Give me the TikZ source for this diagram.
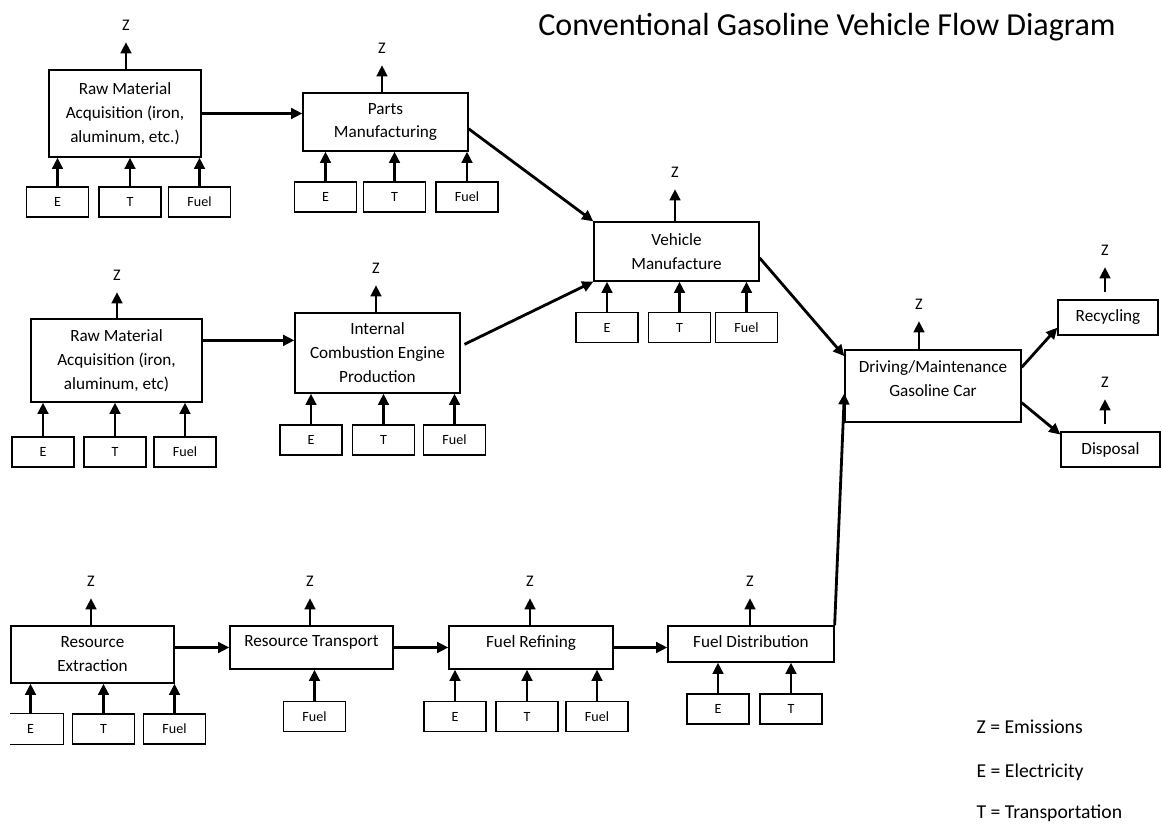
\documentclass[tikz,border=0pt]{standalone}
\usepackage{fontspec}
\setmainfont{Carlito}
\usetikzlibrary{arrows.meta, positioning}
\tikzset{
  every picture/.style={line width=0.9pt},
  box/.style={draw, align=center, inner sep=2pt, font=\fontsize{12.2}{17}\selectfont},
  wh/.style 2 args={minimum width=#1*0.025cm, minimum height=#2*0.025cm},
  inbox/.style={draw, minimum width=1.55cm, minimum height=0.75cm, inner sep=1pt, font=\fontsize{10}{12}\selectfont},
  zlab/.style={inner sep=0pt, outer sep=8.5pt, font=\fontsize{11.5}{13}\selectfont},
  arr/.style={-{Triangle[length=8pt, width=7.5pt]}, line width=2pt},
  legend/.style={anchor=base west, inner sep=0pt, font=\fontsize{14}{17}\selectfont},
}

\begin{document}
\begin{tikzpicture}[x=0.025cm, y=-0.025cm]
  \useasboundingbox (0,0) rectangle (1162,827);
  \node[font=\fontsize{22.8}{27}\selectfont] (title) at (827,27) {Conventional Gasoline Vehicle Flow Diagram};
  % vehicle branch
  \node[box, wh={152}{87}] (rma) at (125,113.5) {Raw Material\\Acquisition (iron,\\aluminum, etc.)};
  \node[box, wh={165}{58}] (parts) at (385.5,122) {Parts\\Manufacturing};
  \node[box, wh={171}{83}] (rmb) at (116.5,360.5) {Raw Material\\Acquisition (iron,\\aluminum, etc)};
  \node[box, wh={165}{80}] (engine) at (377.5,353) {Internal\\Combustion Engine\\Production};
  \node[box, wh={165}{59}] (vman) at (676.5,251.5) {Vehicle\\Manufacture};
  \node[box, wh={176}{72}, text depth=10pt] (drive) at (933,386) {Driving/Maintenance\\Gasoline Car};
  \node[box, wh={100}{35}] (recyc) at (1108,317.5) {Recycling};
  \node[box, wh={99}{35}] (disp) at (1110.5,449.5) {Disposal};
  % fuel branch
  \node[box, wh={163}{57}] (extr) at (92.5,654.5) {Resource\\Extraction};
  \node[box, wh={163}{43}, text depth=9pt] (rtrans) at (311.5,647.5) {Resource Transport};
  \node[box, wh={164}{43}, text depth=9pt] (refine) at (531,647.5) {Fuel Refining};
  \node[box, wh={166}{36}, text depth=3pt] (distr) at (751,644) {Fuel Distribution};
  % emissions
  \foreach \b/\zx/\zy in {rma/126/25, parts/382/48, vman/675/172, rmb/117/275, engine/376/268,
      drive/919/304, extr/91/581, rtrans/310/581, refine/530/581, distr/750/581} {
    \node[zlab] (z-\b) at (\zx,\zy) {Z};
    \draw[arr] (z-\b |- \b.north) -- (z-\b.south);
  }
  \foreach \b/\zx/\zy in {recyc/1105/250, disp/1105/382} {
    \node[zlab] (z-\b) at (\zx,\zy) {Z};
    \draw[arr, shorten <=5pt] (z-\b |- \b.north) -- (z-\b.south);
  }
  % inputs
  \foreach \t/\x [count=\n] in {E/57.5, T/130, Fuel/199.5} {
    \node[inbox] (rma-\n) at (\x,202) {\t};
    \draw[arr] (rma-\n) -- (rma-\n |- rma.south);
  }
  \foreach \t/\x [count=\n] in {E/325.5, T/394.5, Fuel/467} {
    \node[inbox] (parts-\n) at (\x,197) {\t};
    \draw[arr] (parts-\n) -- (parts-\n |- parts.south);
  }
  \foreach \t/\x [count=\n] in {E/607, T/679.5, Fuel/746.5} {
    \node[inbox] (vman-\n) at (\x,327.5) {\t};
    \draw[arr] (vman-\n) -- (vman-\n |- vman.south);
  }
  \foreach \t/\x [count=\n] in {E/43, T/115, Fuel/185} {
    \node[inbox] (rmb-\n) at (\x,452) {\t};
    \draw[arr] (rmb-\n) -- (rmb-\n |- rmb.south);
  }
  \foreach \t/\x [count=\n] in {E/311, T/383.5, Fuel/454.5} {
    \node[inbox] (engine-\n) at (\x,440) {\t};
    \draw[arr] (engine-\n) -- (engine-\n |- engine.south);
  }
  \node[inbox, draw=none, minimum width=1.62cm] (extr-1) at (30.5,729) {E};
  \draw (extr-1.north -| extr.west) -- (extr-1.north east) -- (extr-1.south east) -- (extr-1.south -| extr.west);
  \draw[arr] (extr-1) -- (extr-1 |- extr.south);
  \foreach \t/\x [count=\n from 2] in {T/103.5, Fuel/174.5} {
    \node[inbox] (extr-\n) at (\x,729) {\t};
    \draw[arr] (extr-\n) -- (extr-\n |- extr.south);
  }
  \node[inbox] (rtrans-1) at (314.5,716.5) {Fuel};
  \draw[arr] (rtrans-1) -- (rtrans-1 |- rtrans.south);
  \foreach \t/\x [count=\n] in {E/455, T/527, Fuel/597} {
    \node[inbox] (refine-\n) at (\x,716.5) {\t};
    \draw[arr] (refine-\n) -- (refine-\n |- refine.south);
  }
  \foreach \t/\x [count=\n] in {E/718, T/791} {
    \node[inbox] (distr-\n) at (\x,709) {\t};
    \draw[arr] (distr-\n) -- (distr-\n |- distr.south);
  }
  % flows
  \draw[arr] (rma.east) -- (rma.east -| parts.west);
  \draw[arr] ([yshift=-0.55cm]rmb.north east) -- ([yshift=-0.55cm]rmb.north east -| engine.west);
  \draw[arr] ([yshift=-0.17cm]parts.east) -- (vman.north west);
  \draw[arr, shorten <=3pt] ([yshift=0.17cm]engine.east) -- (vman.south west);
  \draw[arr] ([yshift=-0.16cm]vman.east) -- ([yshift=-0.17cm]drive.north west);
  \draw[arr] ([yshift=-0.45cm]drive.north east) -- ([yshift=0.2cm]recyc.south west);
  \draw[arr] ([yshift=0.5cm]drive.south east) -- ([yshift=-0.08cm]disp.north west);
  \draw[arr] (rtrans.west -| extr.east) -- (rtrans.west);
  \draw[arr] (rtrans) -- (refine);
  \draw[arr] (refine.east) -- (refine.east -| distr.west);
  \draw[arr] (distr.north east) -- ([yshift=-0.18cm]drive.west);
  % legend
  \node[legend] (lz) at (976,733) {Z = Emissions};
  \node[legend] (le) at (976,777) {E = Electricity};
  \node[legend] (lt) at (976,818) {T = Transportation};
\end{tikzpicture}
\end{document}
